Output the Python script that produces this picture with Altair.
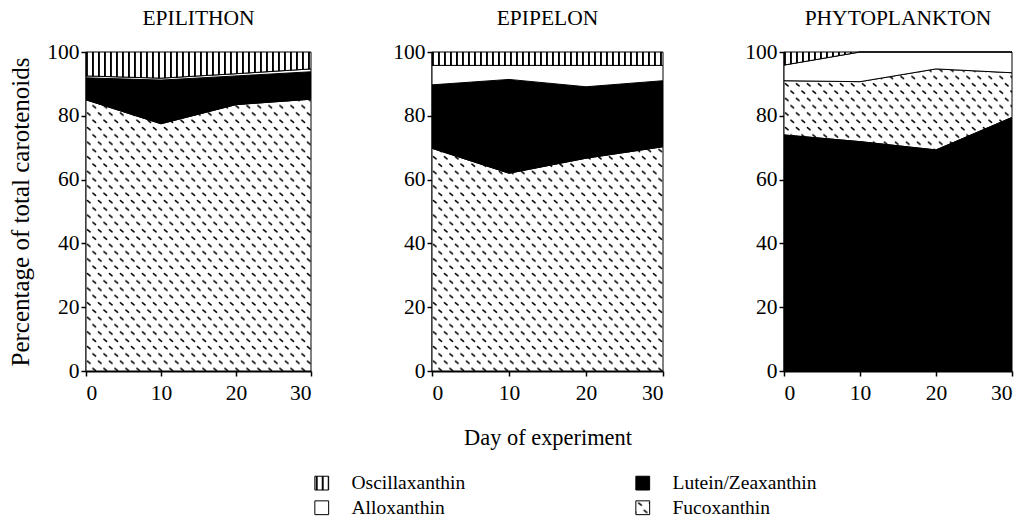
import altair as alt
import pandas as pd
import jinja2

days = [0, 10, 20, 30]
# legend entries are laid out column by column
pigments = ["Oscillaxanthin", "Alloxanthin", "Lutein/Zeaxanthin", "Fucoxanthin"]

# EPILITHON (% of total carotenoids)
epilithon_fuco = [85.0, 77.5, 83.5, 85.2]
epilithon_lutein = [6.9, 13.7, 9.0, 8.6]
epilithon_allox = [0.6, 0.6, 0.7, 0.9]
epilithon_osc = [7.5, 8.2, 6.8, 5.3]

# EPIPELON
epipelon_fuco = [69.8, 62.0, 66.7, 70.3]
epipelon_lutein = [19.9, 29.4, 22.4, 20.7]
epipelon_allox = [6.1, 4.4, 6.7, 4.8]
epipelon_osc = [4.2, 4.2, 4.2, 4.2]

# PHYTOPLANKTON
phyto_fuco = [17.0, 18.8, 25.4, 14.0]
phyto_lutein = [74.0, 71.9, 69.3, 79.5]
phyto_allox = [4.9, 9.3, 5.3, 6.5]
phyto_osc = [4.1, 0.0, 0.0, 0.0]

fills = ["url(#vstripe)", "white", "black", "url(#diag)"]
FONT = "Liberation Serif"


def make_df(fuco, lutein, allox, osc, stack_order):
    rows = []
    series = {"Fucoxanthin": fuco, "Lutein/Zeaxanthin": lutein,
              "Alloxanthin": allox, "Oscillaxanthin": osc}
    for name, vals in series.items():
        for d, v in zip(days, vals):
            rows.append({"day": d, "pct": v, "pigment": name,
                         "rank": stack_order.index(name)})
    return pd.DataFrame(rows)


order_a = ["Fucoxanthin", "Lutein/Zeaxanthin", "Alloxanthin", "Oscillaxanthin"]
order_b = ["Lutein/Zeaxanthin", "Fucoxanthin", "Alloxanthin", "Oscillaxanthin"]

df1 = make_df(epilithon_fuco, epilithon_lutein, epilithon_allox, epilithon_osc, order_a)
df2 = make_df(epipelon_fuco, epipelon_lutein, epipelon_allox, epipelon_osc, order_a)
df3 = make_df(phyto_fuco, phyto_lutein, phyto_allox, phyto_osc, order_b)

legend = alt.Legend(
    title=None, orient="none", legendX=226, legendY=421, columns=2,
    symbolType="square", symbolSize=190, symbolStrokeColor="black",
    symbolStrokeWidth=1, labelFont=FONT, labelFontSize=19.5, labelColor="black",
    labelOffset=20, columnPadding=167, rowPadding=4, symbolOpacity=1,
)


def panel(df, name, ytitle, xtitle, w):
    yax = alt.Axis(values=[0, 20, 40, 60, 80, 100], titlePadding=13,
                   labelPadding=2, titleFontSize=25)
    xax = alt.Axis(values=[0, 10, 20, 30], titlePadding=23, labelPadding=6,
                   titleFontSize=22.4)
    return alt.Chart(df).mark_area(stroke="black", strokeWidth=1, opacity=1).encode(
        x=alt.X("day:Q", title=xtitle,
                scale=alt.Scale(domain=[0, 30], nice=False, zero=False), axis=xax),
        y=alt.Y("pct:Q", stack="zero", title=ytitle,
                scale=alt.Scale(domain=[0, 100], nice=False), axis=yax),
        color=alt.Color("pigment:N", scale=alt.Scale(domain=pigments, range=fills),
                        legend=legend),
        order=alt.Order("rank:Q", sort="ascending"),
    ).properties(width=w, height=319,
                 title=alt.Title(name, frame="group", offset=12))


p1 = panel(df1, "EPILITHON", "Percentage of total carotenoids", None, 225)
p2 = panel(df2, "EPIPELON", None, "Day of experiment", 231)
p3 = panel(df3, "PHYTOPLANKTON", None, None, 228)

chart = alt.hconcat(p1, p2, p3, spacing=79).properties(
    padding={"left": 8, "top": 7, "right": 5, "bottom": 5}
).configure_view(stroke=None).configure_axis(
    grid=False, domainColor="black", domainWidth=2, tickColor="black",
    tickWidth=1.5, tickSize=5, labelFont=FONT, labelFontSize=21.5,
    labelColor="black", titleFont=FONT, titleColor="black",
    titleFontWeight="normal",
).configure_title(
    font=FONT, fontSize=21.5, fontWeight="normal", color="black", anchor="middle"
)

TEMPLATE = jinja2.Template("""<!DOCTYPE html>
<html>
<head>
  <meta charset="utf-8">
  <style>body { margin: 0; }</style>
  <script type="text/javascript" src="{{ base_url }}/vega@{{ vega_version }}"></script>
  <script type="text/javascript" src="{{ base_url }}/vega-lite@{{ vegalite_version }}"></script>
  <script type="text/javascript" src="{{ base_url }}/vega-embed@{{ vegaembed_version }}"></script>
</head>
<body>
  <svg width="0" height="0" style="position:absolute">
    <defs>
      <pattern id="vstripe" patternUnits="userSpaceOnUse" width="6" height="10">
        <rect x="0" y="0" width="6" height="10" fill="white"/>
        <rect x="0" y="0" width="1.9" height="10" fill="black"/>
      </pattern>
      <pattern id="diag" patternUnits="userSpaceOnUse" width="11" height="14.6">
        <rect x="0" y="0" width="11" height="14.6" fill="white"/>
        <path d="M1.4,2.6 L4.1,4.7 M6.9,9.9 L9.6,12.0" stroke="black" stroke-width="1.6" stroke-linecap="round"/>
      </pattern>
    </defs>
  </svg>
  <div id="{{ output_div }}"></div>
  <script>
    (function(vegaEmbed) {
      var spec = {{ spec }};
      var embedOpt = {{ embed_options }};
      vegaEmbed("#{{ output_div }}", spec, embedOpt);
    })(vegaEmbed);
  </script>
</body>
</html>
""")

chart.save("out.html", embed_options={"renderer": "svg", "actions": False},
           template=TEMPLATE)
